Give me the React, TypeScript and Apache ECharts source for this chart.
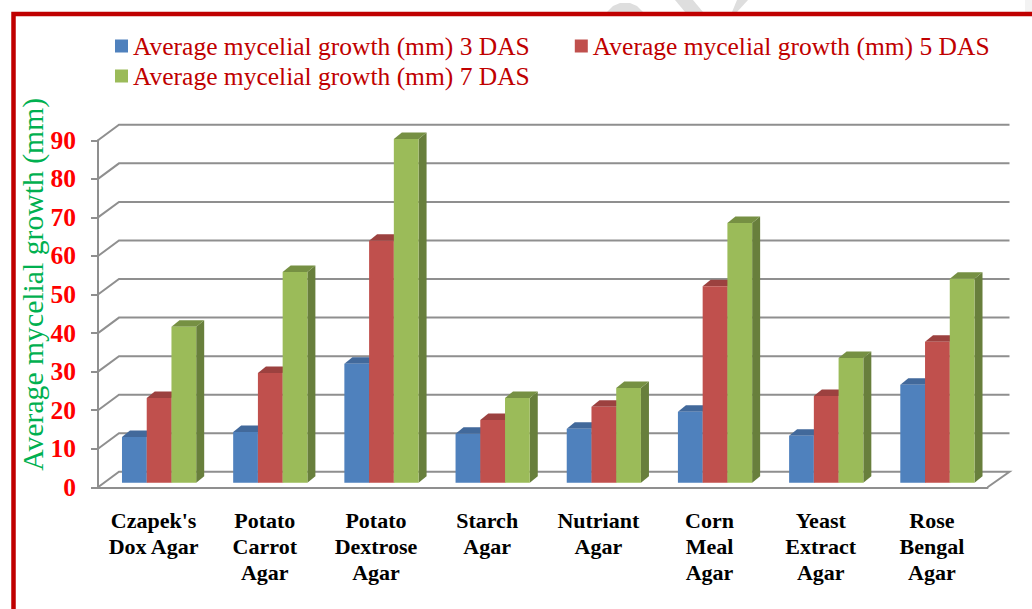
import React, { useEffect, useRef } from "react";
import * as echarts from "echarts";

const categories = [
  "Czapek's\nDox Agar",
  "Potato\nCarrot\nAgar",
  "Potato\nDextrose\nAgar",
  "Starch\nAgar",
  "Nutriant\nAgar",
  "Corn\nMeal\nAgar",
  "Yeast\nExtract\nAgar",
  "Rose\nBengal\nAgar",
];
const das3 = [11.9, 13.2, 30.9, 12.7, 14.0, 18.4, 12.2, 25.4];
const das5 = [22.0, 28.5, 62.8, 16.3, 19.7, 51.0, 22.5, 36.6];
const das7 = [40.5, 54.7, 89.2, 22.0, 24.6, 67.4, 32.4, 52.9];
const yTicks = [0, 10, 20, 30, 40, 50, 60, 70, 80, 90];
const names = [
  "Average mycelial growth (mm) 3 DAS",
  "Average mycelial growth (mm) 5 DAS",
  "Average mycelial growth (mm) 7 DAS",
];
const fronts = ["#4F81BD", "#C0504D", "#9BBB59"];
const sides = ["#3B618E", "#903C3A", "#687F3C"];
const tops = ["#42699B", "#9C413F", "#769043"];

const SERIF = "'Liberation Serif','Times New Roman',serif";
const GRID = "#8F8F8F";
const DEPTH_X = 21;
const DEPTH_Y = 15.5;
const BAR_DX = 5.5;
const BAR_DY = 4.5;
const SIDE_X = 8;
const SIDE_Y = 6.5;
const BAR_RATIO = 0.2225;

function bar3d(slot: number) {
  return (params: any, api: any) => {
    const i = api.value(0);
    const v = api.value(1);
    const c = api.coord([i, v]);
    const b = api.coord([i, 0]);
    const w = api.size([1, 0])[0] * BAR_RATIO;
    const x0 = c[0] + BAR_DX + (slot - 1.5) * w;
    const x1 = x0 + w;
    const yT = c[1] - BAR_DY;
    const yB = b[1] - BAR_DY;
    return {
      type: "group",
      children: [
        {
          type: "polygon",
          shape: { points: [[x1, yT], [x1 + SIDE_X, yT - SIDE_Y], [x1 + SIDE_X, yB - SIDE_Y], [x1, yB]] },
          style: { fill: sides[slot] },
        },
        {
          type: "polygon",
          shape: { points: [[x0, yT], [x0 + SIDE_X, yT - SIDE_Y], [x1 + SIDE_X, yT - SIDE_Y], [x1, yT]] },
          style: { fill: tops[slot] },
        },
        {
          type: "rect",
          shape: { x: x0, y: yT, width: w, height: yB - yT },
          style: { fill: fronts[slot] },
        },
      ],
    };
  };
}

function gridLine(params: any, api: any) {
  const y = api.coord([0, api.value(1)])[1];
  const sys = params.coordSys;
  const xL = sys.x;
  const xR = sys.x + sys.width;
  const isFloor = api.value(1) === 0;
  const pts = [
    [xL, y],
    [xL + DEPTH_X, y - DEPTH_Y],
    [xR + DEPTH_X + 1, y - DEPTH_Y],
  ];
  if (isFloor) pts.push([xR, y]);
  return {
    type: "polyline",
    shape: { points: pts },
    style: { stroke: GRID, lineWidth: 2, fill: "none" },
  };
}

function barSeries(slot: number, values: number[]) {
  return {
    type: "custom",
    name: names[slot],
    z: 3 + slot,
    itemStyle: { color: fronts[slot] },
    encode: { x: 0, y: 1 },
    renderItem: bar3d(slot),
    data: values.map((v, i) => [i, v]),
  };
}

function legendAt(left: number, top: number, data: string[]) {
  return {
    left,
    top,
    data,
    padding: 0,
    icon: "rect",
    itemWidth: 13,
    itemHeight: 13,
    itemGap: 45,
    selectedMode: false,
    textStyle: { fontFamily: SERIF, fontSize: 25.5, color: "#C00000" },
  };
}

const WATERMARK = "#DEDEDE";

export default function App() {
  const ref = useRef<HTMLDivElement>(null);
  useEffect(() => {
    document.body.style.margin = "0";
    const chart = echarts.init(ref.current!, undefined, { renderer: "svg" });
    chart.setOption({
      animation: false,
      backgroundColor: "#FFFFFF",
      grid: { left: 98, right: 44.5, top: 140.3, bottom: 121.7, containLabel: false },
      legend: [legendAt(115, 33, [names[0], names[1]]), legendAt(115, 63, [names[2]])],
      graphic: [
        {
          type: "polygon",
          shape: { points: [[607, 12], [613, 6], [620, 3], [630, 3], [637, 6], [643, 12]] },
          style: { fill: WATERMARK },
        },
        {
          type: "polygon",
          shape: { points: [[675, 0], [693, 0], [703, 12], [685, 12]] },
          style: { fill: WATERMARK },
        },
        {
          type: "polygon",
          shape: { points: [[737, 0], [748, 0], [737, 12], [732, 12]] },
          style: { fill: WATERMARK },
        },
        {
          type: "rect",
          shape: { x: 1025, y: 0, width: 7, height: 12 },
          style: { fill: "#F3F3F3" },
        },
        {
          type: "polyline",
          shape: { points: [[13.5, 609], [13.5, 14], [1032, 14]] },
          style: { stroke: "#C00000", lineWidth: 4.5, fill: "none" },
        },
      ],
      xAxis: {
        type: "category",
        data: categories,
        axisLine: { lineStyle: { color: GRID, width: 2 } },
        axisTick: { length: 6, lineStyle: { color: GRID, width: 2 } },
        axisLabel: {
          interval: 0,
          margin: 20,
          fontFamily: SERIF,
          fontWeight: "bold",
          fontSize: 22,
          lineHeight: 26,
          color: "#000000",
        },
      },
      yAxis: {
        type: "value",
        min: 0,
        max: 90,
        interval: 10,
        name: "Average mycelial growth (mm)",
        nameLocation: "middle",
        nameGap: 50,
        nameMoveOverlap: false,
        nameTextStyle: {
          fontFamily: SERIF,
          fontSize: 29.7,
          color: "#00B050",
          padding: [0, 0, 0, 59],
        },
        axisLine: { show: true, lineStyle: { color: GRID, width: 2 } },
        axisTick: { show: true, length: 7, lineStyle: { color: GRID, width: 2 } },
        splitLine: { show: false },
        axisLabel: {
          margin: 22,
          fontFamily: SERIF,
          fontWeight: "bold",
          fontSize: 25.5,
          color: "#FF0000",
        },
      },
      series: [
        {
          type: "custom",
          z: 1,
          silent: true,
          encode: { x: 0, y: 1 },
          renderItem: gridLine,
          data: yTicks.map((t) => [0, t]),
        },
        barSeries(0, das3),
        barSeries(1, das5),
        barSeries(2, das7),
      ],
    });
    return () => chart.dispose();
  }, []);
  return (
    <div
      ref={ref}
      style={{ position: "absolute", left: 0, top: 0, width: 1032, height: 609 }}
    />
  );
}
